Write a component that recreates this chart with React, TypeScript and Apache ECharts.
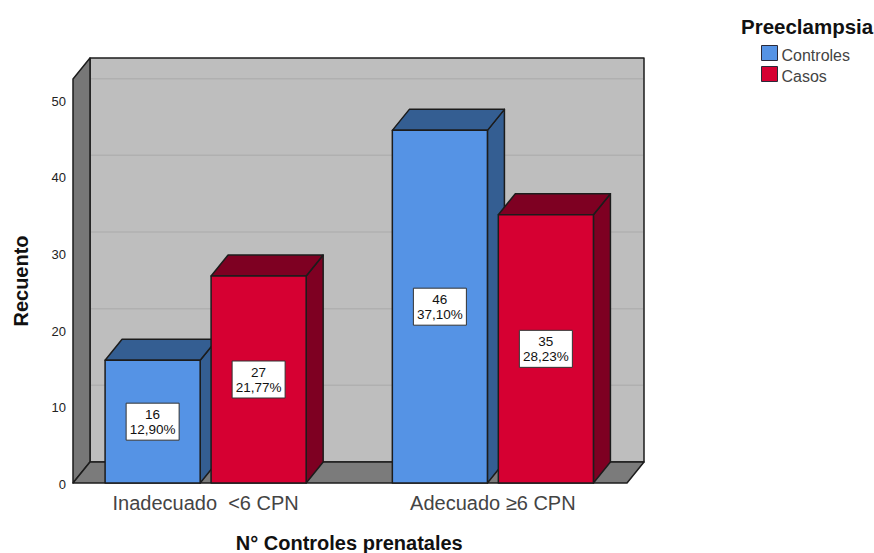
import React, { useEffect, useRef } from "react";
import * as echarts from "echarts";

const categories = ["Inadecuado  <6 CPN", "Adecuado ≥6 CPN"];
const controles = [16, 46];
const casos = [27, 35];
const controlesPct = ["12,90%", "37,10%"];
const casosPct = ["21,77%", "28,23%"];
const yTicks = [0, 10, 20, 30, 40, 50];

const AXIS_MAX = 52.7;
const DEPTH_X = 17;
const DEPTH_Y = 21;
const BAR_RATIO = 0.331;
const GAP_RATIO = 0.038;
const OUTLINE = "#1c1c1c";

// Grey box behind the bars: back wall, left wall, floor and the wall gridlines.
function renderBox(_params: any, api: any) {
  const cs = _params.coordSys;
  const left = cs.x + 11;
  const right = cs.x + cs.width - 9.5;
  const yBase = api.coord([0, 0])[1];
  const yTop = cs.y;
  const line = { stroke: OUTLINE, lineWidth: 1.5, lineJoin: "round" };
  const children: any[] = [
    {
      type: "polygon",
      shape: { points: [[left + DEPTH_X, yTop - DEPTH_Y], [right + DEPTH_X, yTop - DEPTH_Y], [right + DEPTH_X, yBase - DEPTH_Y], [left + DEPTH_X, yBase - DEPTH_Y]] },
      style: { fill: "#bebebe", ...line },
    },
    {
      type: "polygon",
      shape: { points: [[left, yTop], [left + DEPTH_X, yTop - DEPTH_Y], [left + DEPTH_X, yBase - DEPTH_Y], [left, yBase]] },
      style: { fill: "#777777", ...line },
    },
    {
      type: "polygon",
      shape: { points: [[left, yBase], [left + DEPTH_X, yBase - DEPTH_Y], [right + DEPTH_X, yBase - DEPTH_Y], [right, yBase]] },
      style: { fill: "#7b7b7b", ...line },
    },
  ];
  yTicks.slice(1).forEach((t) => {
    const y = api.coord([0, t])[1] - DEPTH_Y;
    children.push({
      type: "line",
      shape: { x1: left + DEPTH_X + 1, y1: y, x2: right + DEPTH_X - 1, y2: y },
      style: { stroke: "#b0b0b0", lineWidth: 1.5 },
    });
  });
  return { type: "group", children };
}

// One extruded bar with its boxed count / percentage label.
function makeBar(side: number, front: string, dark: string, pct: string[]) {
  return (params: any, api: any) => {
    const cat = api.value(0);
    const value = api.value(1);
    const [cx, yTop] = api.coord([cat, value]);
    const yBase = api.coord([cat, 0])[1];
    const band = api.size([1, 0])[0];
    const w = band * BAR_RATIO;
    const gap = band * GAP_RATIO;
    const x0 = side < 0 ? cx - gap / 2 - w : cx + gap / 2;
    const x1 = x0 + w;
    const line = { stroke: OUTLINE, lineWidth: 1.5, lineJoin: "round" };
    return {
      type: "group",
      children: [
        {
          type: "polygon",
          shape: { points: [[x1, yTop], [x1 + DEPTH_X, yTop - DEPTH_Y], [x1 + DEPTH_X, yBase - DEPTH_Y], [x1, yBase]] },
          style: { fill: dark, ...line },
        },
        {
          type: "polygon",
          shape: { points: [[x0, yTop], [x0 + DEPTH_X, yTop - DEPTH_Y], [x1 + DEPTH_X, yTop - DEPTH_Y], [x1, yTop]] },
          style: { fill: dark, ...line },
        },
        {
          type: "rect",
          shape: { x: x0, y: yTop, width: w, height: yBase - yTop },
          style: { fill: front, ...line },
        },
        {
          type: "rect",
          shape: { x: x0 + w / 2 - 26.5, y: (yTop + yBase) / 2 - 18.5, width: 53, height: 37 },
          style: { fill: "#ffffff", stroke: "#333333", lineWidth: 1 },
        },
        {
          type: "text",
          x: x0 + w / 2,
          y: (yTop + yBase) / 2,
          style: {
            text: `${value}\n${pct[params.dataIndex]}`,
            fill: "#111111",
            font: "13.5px 'Liberation Sans'",
            align: "center",
            verticalAlign: "middle",
            lineHeight: 15,
          },
        },
      ],
    };
  };
}

export default function App() {
  const ref = useRef<HTMLDivElement>(null);

  useEffect(() => {
    const chart = echarts.init(ref.current!, undefined, { renderer: "svg" });
    chart.setOption({
      animation: false,
      backgroundColor: "#ffffff",
      textStyle: { fontFamily: "'Liberation Sans'" },
      title: {
        text: "Preeclampsia",
        left: 741,
        top: 16,
        padding: 0,
        textStyle: { fontSize: 20.5, fontWeight: "bold", color: "#111111", fontFamily: "'Liberation Sans'" },
      },
      legend: {
        left: 761,
        top: 45,
        orient: "vertical",
        padding: 0,
        itemWidth: 16,
        itemHeight: 15,
        itemGap: 3,
        selectedMode: false,
        formatter: "{a|{name}}",
        textStyle: {
          fontSize: 16,
          color: "#444444",
          rich: { a: { fontSize: 16, color: "#444444", padding: [4, 0, 0, -1] } },
        },
        data: [
          { name: "Controles", icon: "rect", itemStyle: { color: "#5593e5", borderColor: "#2a2a3a", borderWidth: 1 } },
          { name: "Casos", icon: "rect", itemStyle: { color: "#d60032", borderColor: "#2a2a3a", borderWidth: 1 } },
        ],
      },
      grid: { left: 62, right: 237.5, top: 79, bottom: 70, outerBoundsMode: "none" },
      xAxis: {
        type: "category",
        data: categories,
        axisLine: { show: false },
        axisTick: { show: false },
        axisLabel: { fontSize: 20, color: "#444444", margin: 10 },
        name: "N° Controles prenatales",
        nameLocation: "middle",
        nameGap: 50,
        nameTextStyle: { fontSize: 20, fontWeight: "bold", color: "#111111" },
      },
      yAxis: {
        type: "value",
        min: 0,
        max: AXIS_MAX,
        interval: 10,
        splitLine: { show: false },
        axisLine: { show: false },
        axisTick: { show: false },
        axisLabel: {
          fontSize: 13,
          color: "#222222",
          margin: -4,
          customValues: yTicks,
          formatter: "{a|{value}}",
          rich: { a: { fontSize: 13, color: "#222222", padding: [3, 0, 0, 0] } },
        },
        name: "Recuento",
        nameLocation: "middle",
        nameGap: 31,
        nameTextStyle: { fontSize: 20, fontWeight: "bold", color: "#111111" },
      },
      series: [
        { type: "custom", name: "Fondo", renderItem: renderBox, data: [[0, 0]], silent: true, z: 1, clip: false },
        {
          type: "custom",
          name: "Controles",
          renderItem: makeBar(-1, "#5593e5", "#345e92", controlesPct),
          data: controles.map((v, i) => [i, v]),
          itemStyle: { color: "#5593e5" },
          encode: { x: 0, y: 1 },
          z: 2,
          clip: false,
        },
        {
          type: "custom",
          name: "Casos",
          renderItem: makeBar(1, "#d60032", "#7e0022", casosPct),
          data: casos.map((v, i) => [i, v]),
          itemStyle: { color: "#d60032" },
          encode: { x: 0, y: 1 },
          z: 3,
          clip: false,
        },
      ],
    });
    return () => chart.dispose();
  }, []);

  return <div ref={ref} style={{ position: "absolute", left: 0, top: 0, width: 874, height: 553 }} />;
}
